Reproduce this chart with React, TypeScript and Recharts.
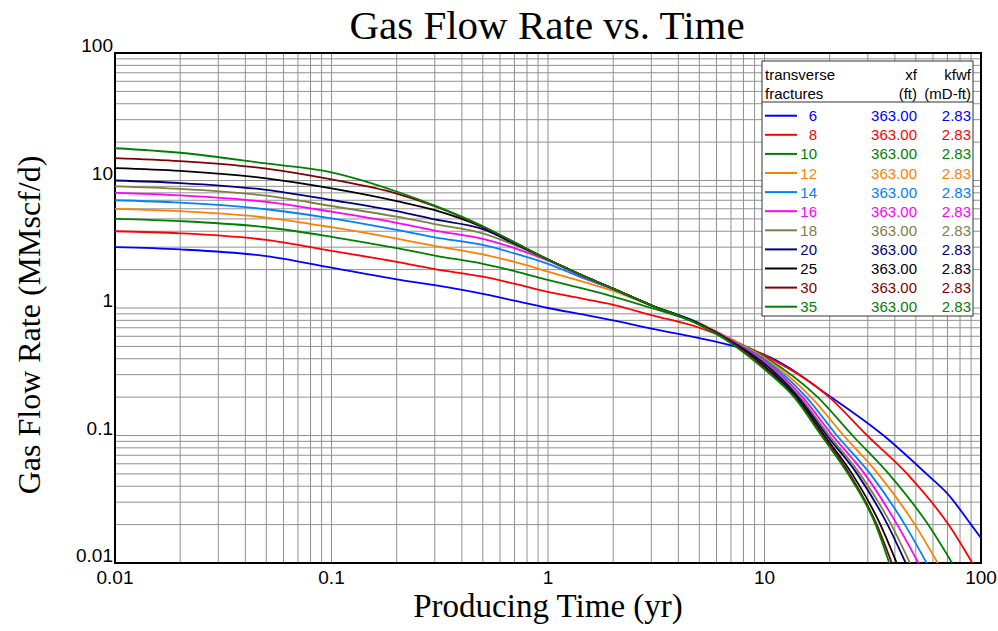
import { LineChart, Line, XAxis, YAxis, CartesianGrid, ReferenceArea } from 'recharts'

// transverse fracture counts and their curve colours
const fractures = [6, 8, 10, 12, 14, 16, 18, 20, 25, 30, 35]
const colors = ['#0000ff', '#ff0000', '#008000', '#ff8000', '#0080ff', '#ff00ff', '#808040', '#000080', '#000000', '#800000', '#008000']
const halfLength = '363.00'
const conductivity = '2.83'

// producing time (yr) shared by the early part of every curve
const times = [0.01, 0.02, 0.05, 0.1, 0.2, 0.3, 0.5, 0.7, 1, 1.5, 2, 3, 5, 7, 10]

// gas rate (MMscf/d) at each of the times above
const rates6 = [3.0, 2.88, 2.55, 2.07, 1.68, 1.51, 1.29, 1.14, 1.0, 0.88, 0.8, 0.69, 0.58, 0.51, 0.43]
const rates8 = [4.0, 3.85, 3.42, 2.81, 2.3, 2.02, 1.76, 1.55, 1.34, 1.17, 1.06, 0.88, 0.7, 0.56, 0.425]
const rates10 = [5.0, 4.8, 4.3, 3.62, 2.95, 2.58, 2.22, 1.95, 1.66, 1.4, 1.23, 1.0, 0.75, 0.57, 0.415]
const rates12 = [6.0, 5.75, 5.12, 4.3, 3.5, 3.07, 2.63, 2.3, 1.93, 1.58, 1.36, 1.04, 0.76, 0.57, 0.405]
const rates14 = [7.0, 6.7, 5.95, 5.05, 4.1, 3.58, 3.12, 2.68, 2.22, 1.68, 1.4, 1.05, 0.76, 0.56, 0.395]
const rates16 = [8.0, 7.65, 6.8, 5.69, 4.65, 4.05, 3.48, 2.95, 2.35, 1.72, 1.41, 1.05, 0.75, 0.56, 0.385]
const rates18 = [9.0, 8.6, 7.6, 6.31, 5.2, 4.55, 3.85, 3.12, 2.38, 1.74, 1.42, 1.05, 0.75, 0.55, 0.375]
const rates20 = [10.0, 9.55, 8.45, 7.03, 5.75, 4.95, 4.15, 3.2, 2.4, 1.75, 1.42, 1.05, 0.75, 0.55, 0.365]
const rates25 = [12.5, 11.9, 10.4, 8.68, 6.9, 5.85, 4.3, 3.25, 2.4, 1.75, 1.42, 1.05, 0.75, 0.54, 0.35]
const rates30 = [15.0, 14.2, 12.4, 10.2, 7.9, 6.3, 4.35, 3.27, 2.4, 1.75, 1.42, 1.05, 0.74, 0.54, 0.34]
const rates35 = [17.9, 16.5, 13.6, 11.6, 8.2, 6.35, 4.38, 3.28, 2.4, 1.75, 1.42, 1.05, 0.74, 0.53, 0.33]

// late-time decline: time (yr) at which each curve falls to these rates
const tailRates = [0.2, 0.1, 0.05, 0.02, 0.01]
// the 6-fracture well is still producing at 100 yr
const tailRates6 = [0.2, 0.1, 0.05, 0.035, 0.02, 0.0157]
const tail6 = [20.3, 35.5, 56, 70, 90, 100]
const tail8 = [19.9, 29.8, 45.6, 70.8, 91.2]
const tail10 = [17.6, 25.5, 37.5, 57.0, 73.5]
const tail12 = [16.4, 23.2, 33.5, 49.5, 63.1]
const tail14 = [15.6, 21.6, 30.8, 44.5, 56.1]
const tail16 = [15.0, 20.6, 29.0, 41.0, 51.4]
const tail18 = [14.6, 19.9, 27.6, 38.5, 47.0]
const tail20 = [14.3, 19.4, 26.8, 37.0, 44.9]
const tail25 = [14.0, 18.9, 25.4, 34.3, 40.8]
const tail30 = [13.8, 18.6, 24.7, 33.0, 38.7]
const tail35 = [13.7, 18.3, 24.3, 32.6, 37.7]

const decades = [0.01, 0.1, 1, 10, 100]

const earlyRates = [rates6, rates8, rates10, rates12, rates14, rates16, rates18, rates20, rates25, rates30, rates35]
const tailTimes = [tail6, tail8, tail10, tail12, tail14, tail16, tail18, tail20, tail25, tail30, tail35]

const series = fractures.map((n, i) => {
  const late = i === 0 ? tailRates6 : tailRates
  const data = times
    .map((t, j) => ({ t, q: earlyRates[i][j] }))
    .concat(tailTimes[i].map((t, j) => ({ t, q: late[j] })))
  return { name: String(n), color: colors[i], data }
})

// log grid: 1..9 in every decade
const gridValues: number[] = []
decades.slice(0, -1).forEach((d) => {
  for (let m = 1; m < 10; m++) gridValues.push(Number((m * d).toPrecision(2)))
})
gridValues.push(100)

const W = 998
const H = 631
const M = { top: 53, right: 17, bottom: 0, left: 55 }
const Y_AXIS_W = 60
const X_AXIS_H = 68

const tickFont = '"Liberation Sans", Arial, sans-serif'
const serif = '"Liberation Serif", "Times New Roman", serif'

function TimeTick({ x, y, payload }: any) {
  if (!decades.includes(payload.value)) return <g />
  return (
    <text x={x} y={y + 21} textAnchor="middle" fontSize={19} fontFamily={tickFont} fill="#000">
      {payload.value}
    </text>
  )
}

function RateTick({ x, y, payload }: any) {
  if (!decades.includes(payload.value)) return <g />
  return (
    <text x={x - 2} y={y - 1} textAnchor="end" fontSize={19} fontFamily={tickFont} fill="#000">
      {payload.value}
    </text>
  )
}

function LegendBox() {
  const left = 762
  const top = 61
  const w = 211
  const rowTop = 115.7
  const rowGap = 19.1
  const font = { fontFamily: tickFont, fontSize: 15 }
  return (
    <g>
      <rect x={left} y={top} width={w} height={255} fill="#fff" stroke="#333" strokeWidth={1} />
      <text x={left + 3} y={top + 19} {...font}>transverse</text>
      <text x={left + 3} y={top + 38} {...font}>fractures</text>
      <text x={917} y={top + 19} textAnchor="end" {...font}>xf</text>
      <text x={917} y={top + 38} textAnchor="end" {...font}>(ft)</text>
      <text x={971} y={top + 19} textAnchor="end" {...font}>kfwf</text>
      <text x={971} y={top + 38} textAnchor="end" {...font}>(mD-ft)</text>
      <line x1={left} x2={left + w} y1={top + 41} y2={top + 41} stroke="#333" strokeWidth={1} />
      {series.map((s, i) => {
        const cy = rowTop + i * rowGap
        return (
          <g key={s.name}>
            <line x1={765} x2={797} y1={cy} y2={cy} stroke={s.color} strokeWidth={2} />
            <text x={817} y={cy + 5.5} textAnchor="end" fill={s.color} {...font}>{s.name}</text>
            <text x={917} y={cy + 5.5} textAnchor="end" fill={s.color} {...font}>{halfLength}</text>
            <text x={971} y={cy + 5.5} textAnchor="end" fill={s.color} {...font}>{conductivity}</text>
          </g>
        )
      })}
    </g>
  )
}

export default function App() {
  return (
    <div style={{ position: 'absolute', left: 0, top: 0, width: W, height: H, background: '#fff' }}>
      <LineChart width={W} height={H} margin={M}>
        <CartesianGrid stroke="#919191" strokeWidth={1} />
        <XAxis
          dataKey="t"
          type="number"
          scale="log"
          domain={[0.01, 100]}
          allowDataOverflow
          ticks={gridValues}
          interval={0}
          tick={<TimeTick />}
          tickSize={0}
          tickMargin={0}
          tickLine={false}
          axisLine={false}
          height={X_AXIS_H}
        />
        <YAxis
          dataKey="q"
          type="number"
          scale="log"
          domain={[0.01, 100]}
          allowDataOverflow
          ticks={gridValues}
          interval={0}
          tick={<RateTick />}
          tickSize={0}
          tickMargin={0}
          tickLine={false}
          axisLine={false}
          width={Y_AXIS_W}
        />
        {series.map((s) => (
          <Line
            key={s.name}
            data={s.data}
            dataKey="q"
            name={s.name}
            type="monotone"
            stroke={s.color}
            strokeWidth={1.8}
            dot={false}
            activeDot={false}
            isAnimationActive={false}
          />
        ))}
        <ReferenceArea
          x1={0.01}
          x2={100}
          y1={0.01}
          y2={100}
          fill="none"
          stroke="#000"
          strokeWidth={2}
          ifOverflow="visible"
        />
      </LineChart>
      <svg width={W} height={H} style={{ position: 'absolute', left: 0, top: 0, pointerEvents: 'none' }}>
        <text x={547} y={39} textAnchor="middle" fontSize={41} fontFamily={serif}>
          Gas Flow Rate vs. Time
        </text>
        <text x={548} y={617} textAnchor="middle" fontSize={33} fontFamily={serif}>
          Producing Time (yr)
        </text>
        <text
          transform="translate(40 325) rotate(-90)"
          textAnchor="middle"
          fontSize={32}
          fontFamily={serif}
        >
          Gas Flow Rate (MMscf/d)
        </text>
        <LegendBox />
      </svg>
    </div>
  )
}
